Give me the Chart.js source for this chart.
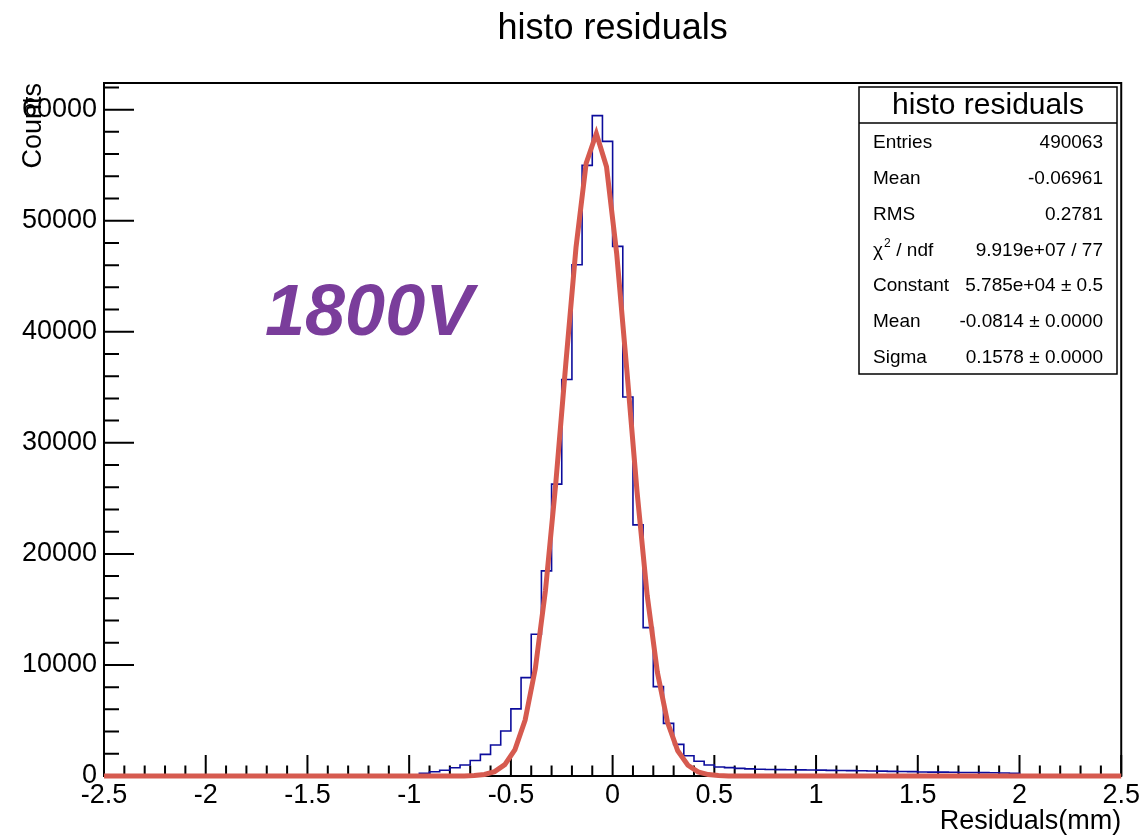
<!DOCTYPE html>
<html>
<head>
<meta charset="utf-8">
<title>histo residuals</title>
<script src="https://cdn.jsdelivr.net/npm/chart.js@4/dist/chart.umd.min.js"></script>
<style>
  html, body { margin: 0; padding: 0; background: #fff; }
  #wrap { width: 1143px; height: 839px; }
</style>
</head>
<body>
<div id="wrap"><canvas id="chartResiduals" width="1143" height="839"></canvas></div>
<script>
// histogram: 100 bins of 0.05 mm from -2.5 to 2.5
const X_MIN = -2.5;
const X_MAX = 2.5;
const BIN_WIDTH = 0.05;
const Y_MAX = 62400;

const counts = [
  0, 0, 0, 0, 0, 0, 0, 0, 0, 0,
  0, 0, 0, 0, 0, 0, 0, 0, 0, 0,
  0, 0, 0, 0, 0, 0, 0, 0, 0, 0,
  0, 240, 380, 520, 740, 990, 1400, 1950, 2790, 4050,
  6040, 8860, 12770, 18470, 26280, 35700, 46040, 54980, 59460, 57140,
  47690, 34120, 22610, 13360, 8050, 4740, 2850, 1830, 1330, 990,
  810, 750, 690, 640, 610, 590, 570, 560, 550, 540,
  530, 510, 500, 480, 470, 450, 440, 420, 400, 390,
  360, 350, 350, 340, 320, 310, 300, 290, 270, 250,
  0, 0, 0, 0, 0, 0, 0, 0, 0, 0
];

// gaus fit polyline as drawn
const fitX = [-2.5, -0.73, -0.68, -0.63, -0.58, -0.53, -0.48, -0.43, -0.38, -0.33, -0.28, -0.23, -0.18,
  -0.13, -0.08, -0.03, 0.02, 0.07, 0.12, 0.17, 0.22, 0.27, 0.32, 0.37, 0.42, 0.47, 0.52, 0.57, 2.5];
const fitY = [0, 10, 40, 140, 390, 1020, 2380, 5040, 9660, 16730, 26230, 37140, 47590,
  55170, 57850, 54860, 47040, 36510, 25620, 16260, 9340, 4840, 2270, 970, 370, 130, 40, 10, 0];

const xTickValues = [-2.5, -2, -1.5, -1, -0.5, 0, 0.5, 1, 1.5, 2, 2.5];
const yTickValues = [0, 10000, 20000, 30000, 40000, 50000, 60000];

const chartTitle = "histo residuals";
const statsTitle = "histo residuals";
const statsLabels = ["Entries", "Mean", "RMS", "chi2", "Constant", "Mean", "Sigma"];
const statsValues = ["490063", "-0.06961", "0.2781", "9.919e+07 / 77", "5.785e+04 \u00b1 0.5",
  "-0.0814 \u00b1 0.0000", "0.1578 \u00b1 0.0000"];

const FONT = "'Liberation Sans', Arial, Helvetica, sans-serif";

function histPoints() {
  const pts = counts.map((c, i) => ({ x: X_MIN + i * BIN_WIDTH, y: c }));
  pts.push({ x: X_MAX, y: counts[counts.length - 1] });
  return pts;
}

function fitPoints() {
  return fitX.map((x, i) => ({ x: x, y: fitY[i] }));
}

// ROOT style frame with ticks inside the pad
const rootAxes = {
  id: "rootAxes",
  beforeDatasetsDraw(chart) {
    const { ctx, chartArea: a, scales: { x, y } } = chart;
    ctx.save();
    ctx.strokeStyle = "#000";
    ctx.lineWidth = 2;
    ctx.strokeRect(a.left, a.top, a.right - a.left, a.bottom - a.top);
    ctx.beginPath();
    for (let i = 0; i <= 50; i++) {
      const px = x.getPixelForValue(X_MIN + i * 0.1);
      const len = i % 5 === 0 ? 21 : 10.5;
      ctx.moveTo(px, a.bottom);
      ctx.lineTo(px, a.bottom - len);
    }
    for (let i = 0; i * 2000 <= Y_MAX; i++) {
      const py = y.getPixelForValue(i * 2000);
      const len = i % 5 === 0 ? 30 : 15;
      ctx.moveTo(a.left, py);
      ctx.lineTo(a.left + len, py);
    }
    ctx.stroke();
    ctx.restore();
  }
};

// title, stats box and the voltage label
const overlays = {
  id: "overlays",
  afterDraw(chart) {
    const { ctx, chartArea: a } = chart;
    ctx.save();

    ctx.fillStyle = "#000";
    ctx.font = "36px " + FONT;
    ctx.textAlign = "center";
    ctx.textBaseline = "alphabetic";
    ctx.fillText(chartTitle, (a.left + a.right) / 2, 39);

    ctx.fillStyle = "#7a3d9b";
    ctx.font = "italic bold 72px " + FONT;
    ctx.textAlign = "left";
    ctx.fillText("1800V", 265, 335);

    const bx = 859, by = 87, bw = 258, bh = 287;
    ctx.fillStyle = "#fff";
    ctx.fillRect(bx, by, bw, bh);
    ctx.strokeStyle = "#000";
    ctx.lineWidth = 1.5;
    ctx.strokeRect(bx, by, bw, bh);
    ctx.beginPath();
    ctx.moveTo(bx, 123);
    ctx.lineTo(bx + bw, 123);
    ctx.stroke();

    ctx.fillStyle = "#000";
    ctx.textAlign = "center";
    ctx.textBaseline = "middle";
    ctx.font = "30px " + FONT;
    ctx.fillText(statsTitle, bx + bw / 2, 106);

    statsLabels.forEach((lab, i) => {
      const ty = 143 + i * 35.8;
      ctx.font = "19px " + FONT;
      ctx.textAlign = "left";
      if (lab === "chi2") {
        ctx.fillText("\u03c7", 873, ty);
        const w = ctx.measureText("\u03c7").width;
        ctx.font = "12px " + FONT;
        ctx.fillText("2", 873 + w + 1, ty - 7);
        ctx.font = "19px " + FONT;
        ctx.fillText(" / ndf", 873 + w + 8, ty);
      } else {
        ctx.fillText(lab, 873, ty);
      }
      ctx.textAlign = "right";
      ctx.fillText(statsValues[i], 1103, ty);
    });
    ctx.restore();
  }
};

function drawChart() {
  const ctx = document.getElementById("chartResiduals").getContext("2d");
  new Chart(ctx, {
    type: "line",
    data: {
      datasets: [
        {
          label: "gaus fit",
          data: fitPoints(),
          borderColor: "#d65a4f",
          borderWidth: 5,
          pointRadius: 0,
          tension: 0,
          clip: false,
          order: 0
        },
        {
          label: "histo residuals",
          data: histPoints(),
          stepped: "before",
          borderColor: "#0c0c9c",
          borderWidth: 1.6,
          pointRadius: 0,
          fill: false,
          order: 1
        }
      ]
    },
    options: {
      responsive: false,
      animation: false,
      devicePixelRatio: 1,
      layout: { padding: { left: 0, right: 21, top: 83, bottom: 0 } },
      plugins: {
        legend: { display: false },
        tooltip: { enabled: false },
        title: { display: false }
      },
      scales: {
        x: {
          type: "linear",
          min: X_MIN,
          max: X_MAX,
          grid: { display: false, drawTicks: false },
          border: { display: false },
          afterFit: s => { s.height = 63; },
          afterBuildTicks: s => { s.ticks = xTickValues.map(v => ({ value: v })); },
          ticks: {
            autoSkip: false,
            maxRotation: 0,
            padding: 3,
            color: "#000",
            font: { family: FONT, size: 27 },
            callback: v => String(v)
          },
          title: {
            display: true,
            text: "Residuals(mm)",
            align: "end",
            color: "#000",
            font: { family: FONT, size: 27 },
            padding: { top: 0, bottom: 1 }
          }
        },
        y: {
          type: "linear",
          min: 0,
          max: Y_MAX,
          grid: { display: false, drawTicks: false },
          border: { display: false },
          afterFit: s => { s.width = 104; },
          afterBuildTicks: s => { s.ticks = yTickValues.map(v => ({ value: v })); },
          ticks: {
            padding: 7,
            color: "#000",
            font: { family: FONT, size: 27 },
            callback: v => String(v)
          },
          title: {
            display: true,
            text: "Counts",
            align: "end",
            color: "#000",
            font: { family: FONT, size: 27 },
            padding: { top: 17, bottom: 0 }
          }
        }
      }
    },
    plugins: [rootAxes, overlays]
  });
}

document.addEventListener("DOMContentLoaded", drawChart);
</script>
</body>
</html>
